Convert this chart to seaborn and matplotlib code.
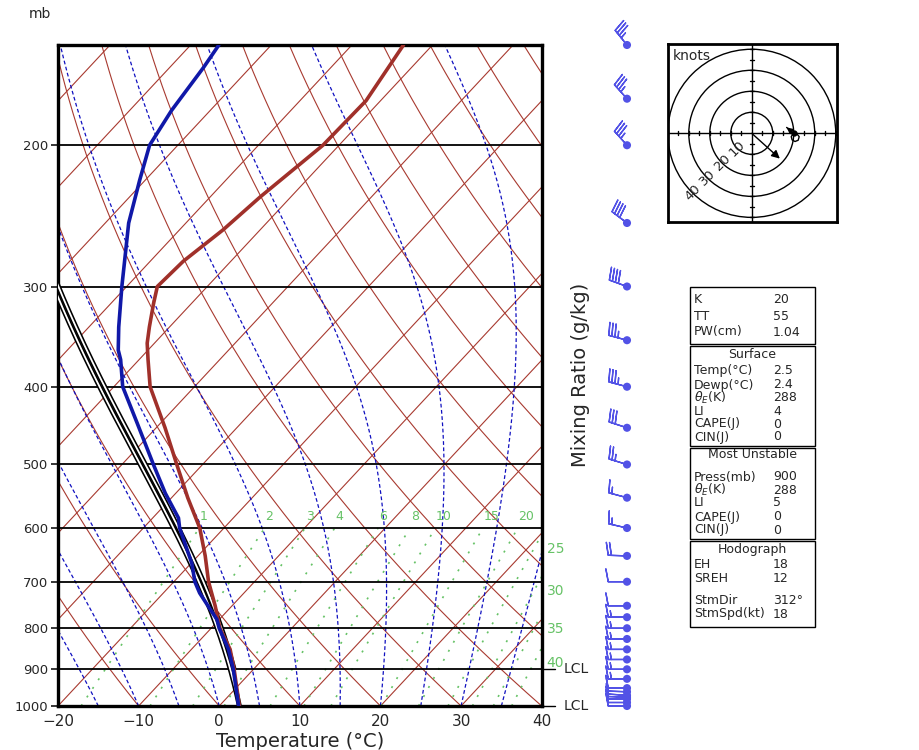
import numpy as np
import pandas as pd
import matplotlib
matplotlib.use("Agg")
import matplotlib.pyplot as plt
import matplotlib.transforms as mtransforms
from matplotlib.patches import Rectangle, Circle
import seaborn as sns

# ---------------- data ----------------
pres_T = [1000, 900, 850, 800, 750, 700, 650, 600, 550, 500, 450, 400, 370, 353,
          337, 315, 300, 279, 255, 232, 200, 176, 150]
temp_C = [2.5, -2.4, -5.2, -8.9, -12.1, -15.7, -19.1, -23.0, -28.0, -33.2, -38.9,
          -45.5, -48.9, -50.9, -52.5, -54.7, -56.2, -55.9, -54.6, -53.8, -52.0,
          -51.8, -53.6]
pres_Td = [1000, 900, 850, 800, 780, 750, 723, 700, 664, 600, 583, 543, 500, 444,
           400, 370, 360, 337, 300, 275, 250, 221, 200, 181, 160, 150]
dewp_C = [2.4, -2.5, -5.4, -9.0, -10.3, -13.0, -15.5, -17.4, -19.9, -25.5, -26.8,
          -31.3, -36.1, -42.9, -48.9, -52.3, -53.7, -56.3, -60.6, -63.7, -67.1,
          -70.7, -73.5, -74.8, -75.8, -76.5]

wind_p = [150, 175, 200, 250, 300, 350, 400, 450, 500, 550, 600, 650, 700, 750, 775,
          800, 825, 850, 875, 900, 925, 950, 960, 970, 975, 980, 990, 1000]
wind_dir = [321, 318, 318, 307, 290, 285, 285, 288, 287, 285, 283, 272, 270, 270, 270,
            270, 270, 270, 270, 270, 270, 270, 272, 274, 272, 270, 270, 270]
wind_spd = [35, 35, 35, 40, 40, 35, 35, 30, 25, 15, 15, 20, 10, 10, 15,
            15, 15, 15, 15, 15, 15, 10, 10, 10, 10, 10, 10, 10]

hodo_u = [20.0, 21.6, 22.6, 22.1, 20.6, 19.2, 18.8, 19.6, 18.6, 16.6]
hodo_v = [0.0, -0.4, -1.6, -3.3, -3.9, -3.1, -1.6, -0.3, 1.2, 2.8]
storm_dir = 312
storm_spd = 18

sfc_parcel = (1000, 2.5)      # pressure, temperature of surface parcel
mu_parcel = (900, -2.4)       # most unstable parcel
lcl_press = [900, 1000]

press_ticks = [1000, 900, 800, 700, 600, 500, 400, 300, 200]
temp_ticks = [-20, -10, 0, 10, 20, 30, 40]
mix_ratios = [1, 2, 3, 4, 6, 8, 10, 15, 20, 25, 30, 35, 40]

index_labels = ["K", "TT", "PW(cm)"]
index_values = ["20", "55", "1.04"]
sfc_labels = ["Temp(°C)", "Dewp(°C)", r"$\theta_E$(K)", "LI", "CAPE(J)", "CIN(J)"]
sfc_values = ["2.5", "2.4", "288", "4", "0", "0"]
mu_labels = ["Press(mb)", r"$\theta_E$(K)", "LI", "CAPE(J)", "CIN(J)"]
mu_values = ["900", "288", "5", "0", "0"]
hodo_labels = ["EH", "SREH", "StmDir", "StmSpd(kt)"]
hodo_values = ["18", "12", "312°", "18"]

# ---------------- style ----------------
sns.set_theme(style="white")
plt.rcParams["font.family"] = ["DejaVu Sans"]
plt.rcParams["axes.unicode_minus"] = True

W, H = 920, 750
fig = plt.figure(figsize=(W / 100, H / 100), dpi=100)
fig.patch.set_facecolor("white")


def fx(x):
    return x / W


def fy(y):
    return 1 - y / H


SKEW = 40.3
P_TOP = 150.0


def skewx(T, p):
    return np.asarray(T, float) + SKEW * np.log(1000.0 / np.asarray(p, float))


Rd, Cp, Lv, EPS = 287.04, 1005.7, 2.501e6, 0.622


def sat_vp(Tc):
    return 6.112 * np.exp(17.67 * Tc / (Tc + 243.5))


def moist_dTdp(TK, p):
    es = sat_vp(TK - 273.15)
    rs = EPS * es / (p - es)
    return (Rd * TK + Lv * rs) / (Cp + Lv * Lv * rs * EPS / (Rd * TK * TK)) / p


def moist_adiabat(T0C, p0, p_end=140.0, n=300):
    ps = np.geomspace(p0, p_end, n)
    T = np.atleast_1d(np.asarray(T0C, float)) + 273.15
    out = [T.copy()]
    for i in range(n - 1):
        h = ps[i + 1] - ps[i]
        k1 = moist_dTdp(T, ps[i])
        k2 = moist_dTdp(T + h / 2 * k1, ps[i] + h / 2)
        k3 = moist_dTdp(T + h / 2 * k2, ps[i] + h / 2)
        k4 = moist_dTdp(T + h * k3, ps[i + 1])
        T = T + h / 6 * (k1 + 2 * k2 + 2 * k3 + k4)
        out.append(T.copy())
    return ps, np.array(out) - 273.15


def dewpoint_from_w(w_gkg, p):
    r = w_gkg / 1000.0
    e = p * r / (EPS + r)
    a = np.log(e / 6.112)
    return 243.5 * a / (17.67 - a)


# ---------------- main skew-T axes ----------------
ax = fig.add_axes([fx(58), fy(706), (541.7 - 58) / W, (706 - 45) / H])
ax.set_yscale("log")
ax.set_ylim(1000, P_TOP)
ax.set_xlim(-20, 40)

RED = "#a83a30"
p_line = np.geomspace(1000, 140, 200)

# isotherms
for T in range(-120, 50, 10):
    ax.plot(skewx(np.full_like(p_line, T), p_line), p_line, color=RED, lw=0.8, zorder=1)
# dry adiabats
for T0 in range(-30, 150, 10):
    th = T0 + 273.15
    Tp = th * (p_line / 1000.0) ** 0.2857 - 273.15
    ax.plot(skewx(Tp, p_line), p_line, color=RED, lw=0.8, zorder=1)
# moist adiabats
ps_m, Tm = moist_adiabat(np.arange(-20, 45, 5), 1000.0)
for j in range(Tm.shape[1]):
    ax.plot(skewx(Tm[:, j], ps_m), ps_m, color="#1010c0", lw=0.9,
            ls=(0, (3, 2)), zorder=1)
# mixing ratio lines
GREEN = "#66c266"
trans_r = mtransforms.blended_transform_factory(ax.transAxes, ax.transData)
for w in mix_ratios:
    pw = np.geomspace(1000, 600, 80)
    Xw = skewx(dewpoint_from_w(w, pw), pw)
    ax.plot(Xw, pw, color=GREEN, lw=1.2, ls=(0, (1.2, 5)), zorder=1)
    if w <= 20:
        ax.text(Xw[-1] + 0.1, 592, str(w), color=GREEN, fontsize=9, ha="left",
                va="bottom")
    else:
        pf = np.geomspace(1000, 500, 600)
        Xf = skewx(dewpoint_from_w(w, pf), pf)
        p_lab = pf[np.argmax(Xf >= 39.0)]
        ax.text(1.01, p_lab, str(w), color=GREEN, fontsize=10, ha="left",
                va="center", transform=trans_r, clip_on=False)

# isobars
for p in press_ticks:
    ax.axhline(p, color="black", lw=1.3, zorder=2)

# parcel traces (hollow black lines)
for (pp, tp) in [sfc_parcel, mu_parcel]:
    ps_p, Tp = moist_adiabat([tp], pp, p_end=140.0)
    xs = skewx(Tp[:, 0], ps_p)
    ax.plot(xs, ps_p, color="black", lw=3.6, zorder=4, solid_capstyle="butt")
    ax.plot(xs, ps_p, color="white", lw=1.3, zorder=4.1, solid_capstyle="butt")

# temperature and dewpoint
df_T = pd.DataFrame({"p": pres_T, "X": skewx(temp_C, pres_T)})
df_Td = pd.DataFrame({"p": pres_Td, "X": skewx(dewp_C, pres_Td)})
sns.lineplot(data=df_T, x="X", y="p", sort=False, estimator=None, ax=ax,
             color="#a0302a", lw=2.6, zorder=5)
sns.lineplot(data=df_Td, x="X", y="p", sort=False, estimator=None, ax=ax,
             color="#1018a8", lw=2.6, zorder=5)

ax.set_xlim(-20, 40)
ax.set_ylim(1000, P_TOP)
ax.set_yticks(press_ticks)
ax.set_yticklabels([str(p) for p in press_ticks], fontsize=9.5)
ax.yaxis.set_minor_locator(matplotlib.ticker.NullLocator())
ax.set_xticks(temp_ticks)
ax.set_xticklabels([f"{t}".replace("-", "\u2212") for t in temp_ticks], fontsize=11)
ax.tick_params(axis="y", length=5, width=1.3, direction="out", pad=2, left=True)
ax.tick_params(axis="x", length=0, pad=6)
ax.set_xlabel("Temperature (°C)", fontsize=14, labelpad=2)
ax.set_ylabel("")
for s in ax.spines.values():
    s.set_linewidth(2.4)
    s.set_color("black")

# LCL markers
for p in lcl_press:
    ax.plot([1.0, 1.028], [p, p], color="black", lw=1.0, transform=trans_r,
            clip_on=False)
    ax.text(1.046, p, "LCL", fontsize=10, ha="left", va="center",
            transform=trans_r, clip_on=False)

fig.text(fx(40), fy(14), "mb", fontsize=10, ha="center", va="center")
fig.text(fx(580), fy(375), "Mixing Ratio (g/kg)", fontsize=14, rotation=90,
         ha="center", va="center")

# ---------------- wind barbs ----------------
BARB = "#5252e6"
axb = fig.add_axes([fx(590), fy(706), 60 / W, (706 - 45) / H])
axb.set_yscale("log")
axb.set_ylim(1000, P_TOP)
axb.set_xlim(0, 1)
axb.axis("off")
xb = (627 - 590) / 60
wd = np.deg2rad(np.array(wind_dir, float))
ws = np.array(wind_spd, float)
u = -ws * np.sin(wd)
v = -ws * np.cos(wd)
axb.barbs(np.full(len(wind_p), xb), wind_p, u, v, length=5.2, color=BARB,
          lw=1.0, clip_on=False, sizes=dict(height=0.68, spacing=0.17, emptybarb=0))
sns.scatterplot(x=np.full(len(wind_p), xb), y=wind_p, ax=axb, s=34, color=BARB,
                edgecolor="none", clip_on=False, zorder=5)
axb.set_xlim(0, 1)
axb.set_ylim(1000, P_TOP)
axb.axis("off")

# ---------------- hodograph ----------------
axh = fig.add_axes([fx(668), fy(222), 169 / W, 178 / H])
axh.set_xlim(-39.9, 40.6)
axh.set_ylim(-42.2, 42.5)
axh.set_xticks([])
axh.set_yticks([])
for s in axh.spines.values():
    s.set_linewidth(2.0)
    s.set_color("black")
for r in [10, 20, 30, 40]:
    axh.add_patch(Circle((0, 0), r, fill=False, lw=1.0, ec="black"))
axh.axhline(0, color="black", lw=1.0)
axh.axvline(0, color="black", lw=1.0)
for t in range(-40, 45, 5):
    if t == 0:
        continue
    axh.plot([t, t], [-1.0, 1.0], color="black", lw=1.0)
    axh.plot([-1.0, 1.0], [t, t], color="black", lw=1.0)
for r in [10, 20, 30, 40]:
    a = np.deg2rad(225)
    axh.text(r * np.cos(a), r * np.sin(a), str(r), rotation=45, fontsize=9.5,
             ha="center", va="center")
axh.text(0.03, 0.97, "knots", transform=axh.transAxes, fontsize=10,
         ha="left", va="top")
sd = np.deg2rad(storm_dir)
su, sv = -storm_spd * np.sin(sd), -storm_spd * np.cos(sd)
axh.annotate("", xy=(su, sv), xytext=(0, 0),
             arrowprops=dict(arrowstyle="-|>", color="black", lw=1.0,
                             mutation_scale=12, shrinkA=0, shrinkB=0))
sns.lineplot(x=hodo_u, y=hodo_v, sort=False, estimator=None, ax=axh,
             color="black", lw=1.0)
axh.annotate("", xy=(hodo_u[-1], hodo_v[-1]), xytext=(hodo_u[-2], hodo_v[-2]),
             arrowprops=dict(arrowstyle="-|>", color="black", lw=1.0,
                             mutation_scale=9, shrinkA=0, shrinkB=0))
axh.plot([hodo_u[0]], [hodo_v[0]], "o", color="black", ms=3.5)
axh.set_xlabel("")
axh.set_ylabel("")

# ---------------- index tables ----------------
LX, VX = 694, 773
boxes = [(287, 344), (346, 446), (448, 539), (541, 627)]
for (y0, y1) in boxes:
    fig.patches.append(Rectangle((fx(690), fy(y1)), (815 - 690) / W, (y1 - y0) / H,
                                 transform=fig.transFigure, fill=False,
                                 ec="black", lw=1.0))


def table_rows(labels, values, ys):
    for lab, val, y in zip(labels, values, ys):
        fig.text(fx(LX), fy(y), lab, fontsize=9, ha="left", va="center")
        fig.text(fx(VX), fy(y), val, fontsize=9, ha="left", va="center")


table_rows(index_labels, index_values, [299, 316, 332])
fig.text(fx(752), fy(354), "Surface", fontsize=9, ha="center", va="center")
table_rows(sfc_labels, sfc_values, [371, 385, 398, 411, 424, 437])
fig.text(fx(752), fy(455), "Most Unstable", fontsize=9, ha="center", va="center")
table_rows(mu_labels, mu_values, [477, 490, 503, 517, 530])
fig.text(fx(752), fy(549), "Hodograph", fontsize=9, ha="center", va="center")
table_rows(hodo_labels, hodo_values, [565, 579, 601, 614])

fig.savefig("out.png", dpi=100, facecolor="white")
